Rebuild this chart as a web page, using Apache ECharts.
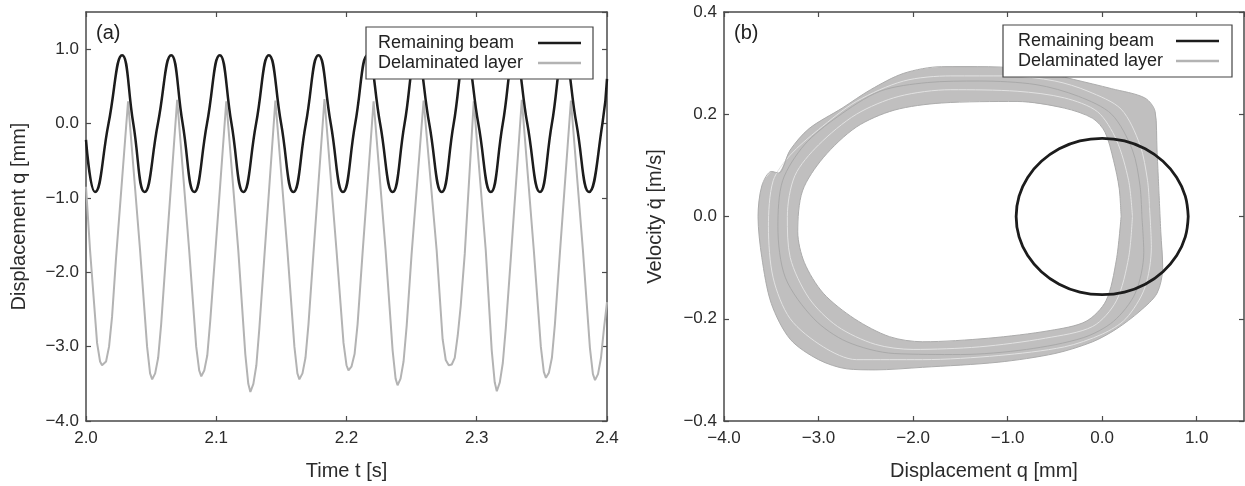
<!DOCTYPE html>
<html><head><meta charset="utf-8">
<script src="https://cdn.jsdelivr.net/npm/echarts@6/dist/echarts.min.js"></script>
<style>html,body{margin:0;padding:0;background:#fff}#c{width:1245px;height:486px}</style>
</head><body><div id="c"></div><script>
// ---------- (a) time histories ----------
const beamT = [2.0000,2.0069,2.0173,2.0277,2.0363,2.0450,2.0552,2.0654,2.0742,2.0831,2.0929,2.1027,2.1117,2.1208,2.1306,2.1404,2.1498,2.1592,2.1688,2.1785,2.1879,2.1973,2.2067,2.2162,2.2258,2.2354,2.2446,2.2538,2.2635,2.2731,2.2823,2.2915,2.3012,2.3108,2.3200,2.3292,2.3388,2.3485,2.3577,2.3669,2.3765,2.3862,2.3965,2.4000];
const beamQ = [-0.22,-0.92,0,0.92,0,-0.92,0,0.92,0,-0.92,0,0.92,0,-0.92,0,0.92,0,-0.92,0,0.92,0,-0.92,0,0.92,0,-0.92,0,0.92,0,-0.92,0,0.92,0,-0.92,0,0.92,0,-0.92,0,0.92,0,-0.92,0,0.6];

const layerT = [2.0000,2.0031,2.0085,2.0108,2.0123,2.0138,2.0154,2.0177,2.0200,2.0231,2.0323,
 2.0415,2.0469,2.0492,2.0508,2.0531,2.0554,2.0577,2.0615,2.0700,
 2.0792,2.0846,2.0869,2.0885,2.0908,2.0931,2.0954,2.0992,2.1077,
 2.1169,2.1223,2.1246,2.1262,2.1285,2.1308,2.1331,2.1369,2.1454,
 2.1546,2.1600,2.1623,2.1638,2.1662,2.1685,2.1708,2.1746,2.1831,
 2.1923,2.1977,2.2000,2.2015,2.2038,2.2062,2.2085,2.2123,2.2208,
 2.2300,2.2354,2.2377,2.2392,2.2415,2.2438,2.2462,2.2500,2.2592,
 2.2692,2.2738,2.2762,2.2785,2.2808,2.2831,2.2854,2.2877,2.2908,2.2977,
 2.3069,2.3115,2.3138,2.3154,2.3177,2.3200,2.3223,2.3262,2.3346,
 2.3438,2.3492,2.3515,2.3531,2.3554,2.3577,2.3600,2.3638,2.3723,
 2.3815,2.3869,2.3892,2.3908,2.3931,2.3954,2.3977,2.4000];
const layerQ = [-0.85,-1.7,-2.95,-3.2,-3.25,-3.24,-3.2,-3.0,-2.6,-1.8,0.30,
 -1.7,-3.0,-3.36,-3.44,-3.36,-3.15,-2.7,-1.75,0.32,
 -1.7,-3.0,-3.32,-3.40,-3.32,-3.12,-2.65,-1.75,0.30,
 -1.7,-3.1,-3.5,-3.61,-3.5,-3.25,-2.75,-1.8,0.31,
 -1.7,-3.0,-3.36,-3.44,-3.36,-3.15,-2.7,-1.75,0.33,
 -1.7,-2.95,-3.25,-3.32,-3.27,-3.1,-2.7,-1.75,0.30,
 -1.7,-3.05,-3.43,-3.52,-3.43,-3.2,-2.72,-1.75,0.31,
 -1.7,-2.9,-3.18,-3.25,-3.24,-3.15,-2.85,-2.45,-1.75,0.30,
 -1.7,-3.05,-3.48,-3.60,-3.48,-3.22,-2.75,-1.8,0.32,
 -1.7,-3.0,-3.34,-3.42,-3.35,-3.15,-2.7,-1.75,0.31,
 -1.7,-3.02,-3.37,-3.45,-3.37,-3.15,-2.75,-2.4];

// ---------- (b) phase portraits ----------
const beamPhaseQ = [0.91,0.879,0.788,0.643,0.455,0.236,0,-0.236,-0.455,-0.643,-0.788,-0.879,-0.91,-0.879,-0.788,-0.643,-0.455,-0.236,0,0.236,0.455,0.643,0.788,0.879,0.91];
const beamPhaseV = [0,0.040,0.0765,0.108,0.1325,0.148,0.153,0.148,0.1325,0.108,0.0765,0.040,0,-0.040,-0.0765,-0.108,-0.1325,-0.148,-0.153,-0.148,-0.1325,-0.108,-0.0765,-0.040,0];

const outerQ = [0.60,0.62,0.64,0.58,0.40,0.15,-0.10,-0.50,-1.10,-1.90,-2.40,-2.70,-3.00,-3.30,-3.50,-3.60,-3.64,-3.60,-3.50,-3.42,-3.30,-3.10,-2.75,-2.45,-2.10,-1.70,-1.20,-0.70,-0.30,0.10,0.45,0.56,0.58,0.60];
const outerV = [0.05,-0.03,-0.10,-0.15,-0.185,-0.22,-0.245,-0.268,-0.285,-0.295,-0.300,-0.298,-0.280,-0.240,-0.170,-0.080,0.000,0.060,0.088,0.085,0.130,0.172,0.212,0.248,0.280,0.293,0.293,0.285,0.268,0.250,0.232,0.205,0.130,0.05];
const innerQ = [0.20,0.15,0.04,-0.17,-0.55,-1.20,-1.90,-2.25,-2.62,-2.95,-3.15,-3.22,-3.17,-2.95,-2.60,-2.20,-1.70,-0.90,-0.40,-0.10,0.03,0.12,0.18,0.20];
const innerV = [0.00,-0.085,-0.165,-0.205,-0.223,-0.238,-0.245,-0.235,-0.200,-0.150,-0.090,-0.030,0.050,0.115,0.175,0.208,0.222,0.225,0.212,0.192,0.165,0.110,0.055,0.00];
const midAQ = [0.50,0.52,0.45,0.25,0.0,-0.4,-1.1,-1.9,-2.6,-2.95,-3.3,-3.48,-3.53,-3.48,-3.3,-3.0,-2.6,-2.1,-1.6,-1.0,-0.5,-0.15,0.2,0.4,0.48,0.50];
const midAV = [0.02,-0.06,-0.14,-0.2,-0.23,-0.255,-0.272,-0.28,-0.28,-0.255,-0.2,-0.12,-0.02,0.07,0.12,0.17,0.225,0.265,0.275,0.275,0.265,0.245,0.21,0.14,0.07,0.02];
const midBQ = [0.32,0.28,0.15,-0.1,-0.6,-1.3,-2.0,-2.4,-2.8,-3.1,-3.3,-3.33,-3.25,-3.0,-2.6,-2.15,-1.6,-0.9,-0.4,-0.05,0.15,0.28,0.32];
const midBV = [0.0,-0.08,-0.165,-0.215,-0.238,-0.255,-0.26,-0.25,-0.215,-0.16,-0.08,0.0,0.08,0.14,0.2,0.235,0.248,0.245,0.232,0.205,0.15,0.07,0.0];
const midCQ = [0.42,0.44,0.35,0.12,-0.2,-0.8,-1.5,-2.2,-2.7,-3.05,-3.35,-3.43,-3.38,-3.15,-2.8,-2.35,-1.85,-1.3,-0.7,-0.25,0.1,0.32,0.40,0.42];
const midCV = [0.0,-0.07,-0.15,-0.205,-0.237,-0.26,-0.27,-0.268,-0.245,-0.2,-0.12,-0.02,0.07,0.14,0.195,0.245,0.262,0.265,0.258,0.235,0.2,0.13,0.06,0.0];

const zip = (a, b) => a.map((x, i) => [x, b[i]]);

const FONT = '"Liberation Sans", Arial, Helvetica, sans-serif';
const AX = '#4a4a4a';
const BLACK = '#1c1c1c';
const GRAY = '#b3b3b3';
function fmt(v) { if (Math.abs(v) < 1e-9) v = 0; return v.toFixed(1).replace('-', '\u2212'); }

function axis(opts) {
  const o = {
    type: 'value', gridIndex: opts.grid, position: opts.position,
    min: opts.min, max: opts.max, interval: opts.interval,
    axisLine: { show: true, onZero: false, lineStyle: { color: AX, width: 1.5 } },
    axisTick: { show: true, inside: true, length: 5, lineStyle: { color: AX, width: 1.2 } },
    splitLine: { show: false },
    axisLabel: {
      show: !!opts.labels, color: '#2b2b2b', fontSize: 17, fontFamily: FONT,
      formatter: fmt, margin: opts.margin || 8,
      showMaxLabel: opts.showMax !== false, showMinLabel: true
    }
  };
  if (opts.name) {
    o.name = opts.name; o.nameLocation = 'middle'; o.nameGap = opts.nameGap;
    o.nameTextStyle = { fontSize: 20, fontFamily: FONT, color: '#2b2b2b' };
  }
  return o;
}

function legend(left, top, pad, textW) {
  return {
    data: [{ name: 'Remaining beam', icon: 'rect' }, { name: 'Delaminated layer', icon: 'rect' }],
    orient: 'vertical', left: left, top: top, align: 'right', z: 20,
    itemWidth: 43, itemHeight: 2.4, itemGap: 0, padding: pad,
    borderColor: '#444', borderWidth: 1.2, backgroundColor: '#fff',
    selectedMode: false,
    formatter: '{n|{name}}',
    textStyle: { fontSize: 18, fontFamily: FONT, color: '#222',
      rich: { n: { width: textW, height: 20, align: 'left', fontSize: 18, lineHeight: 20, fontFamily: FONT, color: '#222' } } }
  };
}

function loopLine(q, v, color) {
  return { name: 'Delaminated layer', type: 'line', xAxisIndex: 2, yAxisIndex: 2, data: zip(q, v),
    symbol: 'none', smooth: 0.3, z: 3, lineStyle: { color: color, width: 1 } };
}

const chart = echarts.init(document.getElementById('c'), null, { renderer: 'canvas' });
chart.setOption({
  animation: false,
  backgroundColor: '#fff',
  title: [
    { text: '(a)', left: 96, top: 23, padding: 0, textStyle: { fontSize: 20, fontWeight: 'normal', fontFamily: FONT, color: '#222' } },
    { text: '(b)', left: 734, top: 23, padding: 0, textStyle: { fontSize: 20, fontWeight: 'normal', fontFamily: FONT, color: '#222' } }
  ],
  legend: [legend(366, 27, [6, 12, 6, 12], 155), legend(1003, 25, [6, 13, 6, 15], 153)],
  grid: [
    { left: 86, top: 12, width: 521, height: 410 },
    { left: 724, top: 12, width: 520, height: 410 }
  ],
  xAxis: [
    axis({ grid: 0, position: 'bottom', min: 2.0, max: 2.4, interval: 0.1, labels: true, margin: 9, name: 'Time t [s]', nameGap: 40 }),
    axis({ grid: 0, position: 'top', min: 2.0, max: 2.4, interval: 0.1 }),
    axis({ grid: 1, position: 'bottom', min: -4, max: 1.5, interval: 1, labels: true, margin: 9, showMax: false, name: 'Displacement q [mm]', nameGap: 40 }),
    axis({ grid: 1, position: 'top', min: -4, max: 1.5, interval: 1 })
  ],
  yAxis: [
    axis({ grid: 0, position: 'left', min: -4, max: 1.5, interval: 1, labels: true, margin: 7, showMax: false, name: 'Displacement q [mm]', nameGap: 57 }),
    axis({ grid: 0, position: 'right', min: -4, max: 1.5, interval: 1 }),
    axis({ grid: 1, position: 'left', min: -0.4, max: 0.4, interval: 0.2, labels: true, margin: 7, name: 'Velocity q\u0307 [m/s]', nameGap: 59 }),
    axis({ grid: 1, position: 'right', min: -0.4, max: 0.4, interval: 0.2 })
  ],
  series: [
    { name: 'Remaining beam', type: 'line', xAxisIndex: 0, yAxisIndex: 0, data: zip(beamT, beamQ),
      symbol: 'none', smooth: 0.5, z: 4, lineStyle: { color: BLACK, width: 2.5 }, itemStyle: { color: BLACK } },
    { name: 'Delaminated layer', type: 'line', xAxisIndex: 0, yAxisIndex: 0, data: zip(layerT, layerQ),
      symbol: 'none', z: 3, lineStyle: { color: GRAY, width: 2 }, itemStyle: { color: GRAY } },
    { name: 'band', type: 'custom', xAxisIndex: 2, yAxisIndex: 2, z: 2, silent: true,
      data: [[outerQ[0], outerV[0]]],
      renderItem: function (params, api) {
        const outer = outerQ.map((q, i) => api.coord([q, outerV[i]]));
        const inner = innerQ.map((q, i) => api.coord([q, innerV[i]]));
        return { type: 'group', children: [
          { type: 'polygon', shape: { points: outer, smooth: 0.3 }, style: { fill: '#c0bfbf' } },
          { type: 'polygon', shape: { points: inner, smooth: 0.3 }, style: { fill: '#ffffff' } }
        ] };
      } },
    loopLine(midAQ, midAV, '#e2e2e2'),
    loopLine(midBQ, midBV, '#e2e2e2'),
    loopLine(midCQ, midCV, '#a9a9a9'),
    loopLine(outerQ, outerV, '#acacac'),
    loopLine(innerQ, innerV, '#acacac'),
    { name: 'Remaining beam', type: 'line', xAxisIndex: 2, yAxisIndex: 2, data: zip(beamPhaseQ, beamPhaseV),
      symbol: 'none', smooth: 0.4, z: 5, lineStyle: { color: BLACK, width: 2.8 } }
  ]
});
</script></body></html>
